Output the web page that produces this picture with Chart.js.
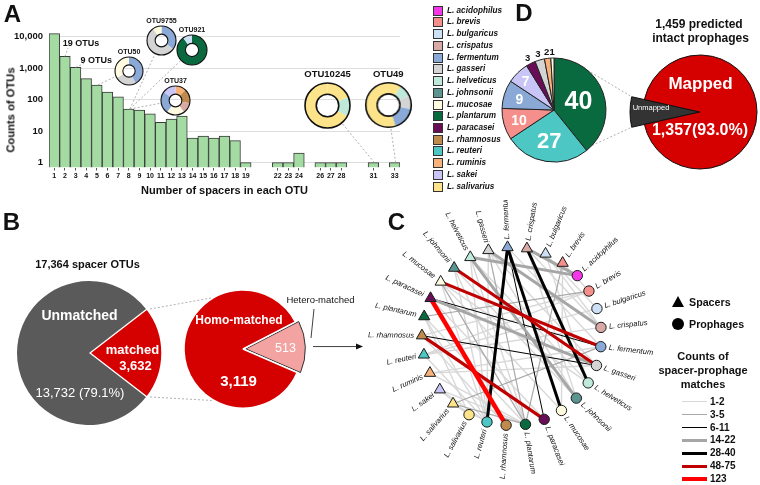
<!DOCTYPE html>
<html lang="en">
<head>
<meta charset="UTF-8">
<title>Spacer OTUs and prophages</title>
<script src="https://cdn.jsdelivr.net/npm/chart.js"></script>
<style>
  body { margin: 0; background: #fff; }
  #fig { position: relative; width: 760px; height: 485px; overflow: hidden; font-family: 'Liberation Sans', Arial, sans-serif; }
  #fig canvas { position: absolute; }
  .t { position: absolute; white-space: nowrap; line-height: 1; color: #111; }
  .sw { position: absolute; width: 8px; height: 8px; border: 1px solid #333; }
</style>
</head>
<body>
<div id="fig"></div>
<script>
  // ---- panel A: spacers per OTU ----
  const spacerNumbers = ['1','2','3','4','5','6','7','8','9','10','11','12','13','14','15','16','17','18','19','20','21','22','23','24','25','26','27','28','29','30','31','32','33'];
  const otuCounts = [12300, 2330, 1050, 460, 290, 174, 121, 50, 46, 35, 19, 24, 30, 6, 7, 6, 7, 5, 1, null, null, 1, 1, 2, null, 1, 1, 1, null, null, 1, null, 1];
  const yTickValues = [1, 10, 100, 1000, 10000];
  const yTickLabels = ['1', '10', '100', '1,000', '10,000'];
  const noteLabels = ['19 OTUs', '9 OTUs'];
  const noteBars = ['2', '3'];

  // example OTUs and the hosts of their spacers (clockwise from top)
  const otuNames = ['OTU50', 'OTU9755', 'OTU921', 'OTU37', 'OTU10245', 'OTU49'];
  const otuSpacers = ['5', '8', '8', '8', '31', '33'];
  const otuSpecies = [
    ['fermentum', 'gasseri', 'mucosae'],
    ['fermentum', 'gasseri', 'mucosae'],
    ['plantarum', 'bulgaricus'],
    ['ruminis', 'rhamnosus', 'crispatus', 'mucosae', 'fermentum', 'sakei'],
    ['salivarius', 'helveticus', 'salivarius'],
    ['salivarius', 'helveticus', 'gasseri', 'fermentum', 'salivarius']
  ];
  const otuShares = [
    [42, 25, 33],
    [35, 55, 10],
    [90, 10],
    [12, 16, 12, 20, 25, 15],
    [19, 14, 67],
    [9, 9, 10, 17, 55]
  ];

  // ---- panel B ----
  const spacerGroups = ['matched', 'Unmatched'];
  const spacerGroupCounts = [3632, 13732];
  const matchedGroups = ['Hetero-matched', 'Homo-matched'];
  const matchedGroupCounts = [513, 3119];

  // ---- panel D ----
  const prophageSpecies = ['plantarum', 'reuteri', 'brevis', 'fermentum', 'sakei', 'paracasei', 'gasseri', 'ruminis', 'mucosae'];
  const prophageCounts = [40, 27, 10, 9, 7, 3, 3, 2, 1];
  const mappingGroups = ['Unmapped', 'Mapped'];
  const mappingCounts = [102, 1357];

  // ---- panel C: spacer -> prophage network ----
  const spacerNodes = ['brevis', 'bulgaricus', 'crispatus', 'fermentum', 'gasseri', 'helveticus', 'johnsonii', 'mucosae', 'paracasei', 'plantarum', 'rhamnosus', 'reuteri', 'ruminis', 'sakei', 'salivarius'];
  const prophageNodes = ['salivarius', 'reuteri', 'rhamnosus', 'plantarum', 'paracasei', 'mucosae', 'johnsonii', 'helveticus', 'gasseri', 'fermentum', 'crispatus', 'bulgaricus', 'brevis', 'acidophilus'];
  const edgeSpacer = ['paracasei','johnsonii','mucosae','rhamnosus','fermentum','fermentum','crispatus','paracasei','rhamnosus','fermentum',
    'crispatus','helveticus','gasseri','paracasei','helveticus','salivarius','plantarum','brevis','gasseri','mucosae','salivarius',
    'reuteri','reuteri','ruminis','sakei','sakei','salivarius','salivarius','plantarum','plantarum','mucosae','johnsonii','johnsonii',
    'helveticus','helveticus','gasseri','gasseri','gasseri','fermentum','crispatus','crispatus','bulgaricus','bulgaricus','brevis','brevis',
    'rhamnosus','rhamnosus','reuteri','paracasei','mucosae','plantarum','ruminis','bulgaricus','johnsonii','sakei','ruminis','reuteri','mucosae','helveticus'];
  const edgeProphage = ['rhamnosus','gasseri','fermentum','paracasei','reuteri','mucosae','helveticus','fermentum','gasseri','paracasei',
    'acidophilus','acidophilus','crispatus','gasseri','johnsonii','fermentum','brevis','plantarum','plantarum','plantarum','plantarum',
    'brevis','bulgaricus','fermentum','reuteri','plantarum','salivarius','reuteri','reuteri','salivarius','reuteri','plantarum','reuteri',
    'helveticus','plantarum','reuteri','johnsonii','gasseri','fermentum','crispatus','johnsonii','bulgaricus','crispatus','brevis','mucosae',
    'rhamnosus','brevis','reuteri','paracasei','mucosae','plantarum','plantarum','helveticus','johnsonii','salivarius','gasseri','crispatus','helveticus','reuteri'];
  const edgeCount = [123, 62, 55, 50, 36, 32, 30, 9, 8, 7,
    18, 15, 16, 20, 14, 4, 4, 3, 3, 3, 3,
    1, 1, 1, 2, 1, 2, 1, 1, 1, 1, 1, 2,
    2, 1, 1, 2, 2, 2, 2, 1, 2, 1, 2, 1,
    1, 1, 2, 1, 1, 2, 1, 1, 1, 1, 1, 2, 1, 1];
  const countBins = ['1-2', '3-5', '6-11', '14-22', '28-40', '48-75', '123'];
  const countBinMax = [2, 5, 11, 22, 40, 75, 123];

  // ---- styles ----
  const FONT = "'Liberation Sans', Arial, sans-serif";
  const speciesNames = ['acidophilus', 'brevis', 'bulgaricus', 'crispatus', 'fermentum', 'gasseri', 'helveticus', 'johnsonii', 'mucosae', 'plantarum', 'paracasei', 'rhamnosus', 'reuteri', 'ruminis', 'sakei', 'salivarius'];
  const speciesColors = ['#f536e8', '#f58f8b', '#cde0f6', '#d9a9a6', '#8aa9d6', '#d4d4d4', '#bfead9', '#5c9590', '#fffbe0', '#0a6a3f', '#6a0d57', '#bf8a4b', '#4cc7c4', '#f7b27a', '#c9c5f6', '#fde38a'];
  const colorOf = s => speciesColors[speciesNames.indexOf(s)];
  const binColors = ['#d8d8d8', '#a9a9a9', '#000000', '#a6a6a6', '#000000', '#c00000', '#ff0000'];
  const binWidths = [1.4, 1.2, 1, 3, 3, 3.2, 4.5];

  Chart.defaults.font.family = FONT;
  Chart.defaults.color = '#111';
  Chart.defaults.animation = false;
  Chart.defaults.responsive = false;
  Chart.defaults.plugins.legend.display = false;
  Chart.defaults.plugins.tooltip.enabled = false;

  const fig = document.getElementById('fig');
  function addCanvas(left, top, w, h) {
    const c = document.createElement('canvas');
    c.width = w; c.height = h;
    c.style.left = left + 'px'; c.style.top = top + 'px';
    c.style.width = w + 'px'; c.style.height = h + 'px';
    fig.appendChild(c);
    return c;
  }
  function addText(txt, x, y, size, o = {}) {
    const d = document.createElement('div');
    d.className = 't';
    d.textContent = txt;
    d.style.left = x + 'px';
    d.style.top = y + 'px';
    d.style.fontSize = size + 'px';
    d.style.fontWeight = o.weight || 'bold';
    if (o.color) d.style.color = o.color;
    if (o.italic) d.style.fontStyle = 'italic';
    d.style.transform = (o.align === 'left' ? 'translate(0,-50%)' : 'translate(-50%,-50%)') + (o.rotate ? ` rotate(${o.rotate}deg)` : '');
    fig.appendChild(d);
    return d;
  }

  const under = addCanvas(0, 0, 760, 485);

  // ---- A: bar chart ----
  const otuPos = [[129, 70.5, 14], [161.5, 40.5, 14.5], [192, 50, 15], [175.5, 100.5, 14.5], [327.5, 105, 22.5], [388.3, 105, 22.3]];
  const notePos = [[68, 48], [84, 63.5]];

  const connectors = {
    id: 'connectors',
    afterDatasetsDraw(chart) {
      const ctx = chart.ctx, xs = chart.scales.x, ys = chart.scales.y;
      const top = lbl => {
        const i = spacerNumbers.indexOf(lbl);
        return [xs.getPixelForValue(i), ys.getPixelForValue(otuCounts[i])];
      };
      ctx.save();
      ctx.setLineDash([2, 2]);
      ctx.strokeStyle = '#9c9c9c';
      ctx.lineWidth = 0.8;
      otuNames.forEach((n, i) => {
        const [bx, by] = top(otuSpacers[i]);
        const [cx, cy, r] = otuPos[i];
        const d = Math.hypot(cx - bx, cy - by);
        ctx.beginPath();
        ctx.moveTo(bx + 1, by);
        ctx.lineTo(cx - (cx - bx) / d * r, cy - (cy - by) / d * r);
        ctx.stroke();
      });
      noteBars.forEach((b, i) => {
        const [bx, by] = top(b);
        ctx.beginPath();
        ctx.moveTo(bx, by);
        ctx.lineTo(notePos[i][0], notePos[i][1]);
        ctx.stroke();
      });
      ctx.restore();
    }
  };

  new Chart(addCanvas(0, 0, 420, 200), {
    type: 'bar',
    data: {
      labels: spacerNumbers,
      datasets: [{
        data: otuCounts,
        backgroundColor: '#a3dba3',
        borderColor: '#3a3a3a',
        borderWidth: 1,
        barPercentage: 1,
        categoryPercentage: 1
      }]
    },
    options: {
      layout: { padding: { top: 27, right: 20, left: 0, bottom: 0 } },
      scales: {
        x: {
          grid: {
            drawOnChartArea: false,
            offset: false,
            tickLength: 3,
            tickColor: c => otuCounts[c.index] == null ? 'rgba(0,0,0,0)' : '#555'
          },
          border: { display: false },
          ticks: {
            autoSkip: false, maxRotation: 0, padding: 1,
            font: { size: 7, weight: 'bold' },
            callback: (v, i) => otuCounts[i] == null ? '' : spacerNumbers[i]
          },
          title: { display: true, text: 'Number of spacers in each OTU', font: { size: 11, weight: 'bold' }, padding: { top: 0, bottom: 2 } },
          afterFit: s => { s.height = 32.5; }
        },
        y: {
          type: 'logarithmic',
          min: 0.74,
          max: 20000,
          afterBuildTicks: s => { s.ticks = yTickValues.map(v => ({ value: v })); },
          ticks: {
            padding: 6,
            font: { size: 9.5, weight: 'bold' },
            callback: v => yTickLabels[yTickValues.indexOf(v)]
          },
          grid: { color: '#dedede', drawTicks: false },
          border: { display: false },
          afterFit: s => { s.width = 49; }
        }
      }
    },
    plugins: [connectors]
  });

  // ring charts for example OTUs
  const ringOutline = {
    id: 'ringOutline',
    afterDatasetsDraw(chart) {
      const a = chart.getDatasetMeta(0).data[0], ctx = chart.ctx;
      ctx.save();
      ctx.strokeStyle = '#111';
      ctx.lineWidth = a.outerRadius > 20 ? 1.6 : 1.1;
      [a.outerRadius, a.innerRadius].forEach(rr => {
        ctx.beginPath(); ctx.arc(a.x, a.y, rr, 0, 2 * Math.PI); ctx.stroke();
      });
      ctx.restore();
    }
  };
  otuNames.forEach((name, i) => {
    const [cx, cy, r] = otuPos[i];
    new Chart(addCanvas(cx - r - 3, cy - r - 3, 2 * r + 6, 2 * r + 6), {
      type: 'doughnut',
      data: {
        labels: otuSpecies[i],
        datasets: [{ data: otuShares[i], backgroundColor: otuSpecies[i].map(colorOf), borderWidth: 0 }]
      },
      options: { radius: r, cutout: r > 20 ? '50%' : '44%' },
      plugins: [ringOutline]
    });
    addText(name, cx, cy - r - (r > 20 ? 8.5 : 6), r > 20 ? 9.5 : 7);
  });
  noteLabels.forEach((t, i) => addText(t, [81, 96.3][i], [43, 60][i], 9));

  // ---- pies (B, D) ----
  function pieChart(cx, cy, r, margin, labels, values, colors, o) {
    const size = 2 * (r + margin);
    return new Chart(addCanvas(cx - r - margin, cy - r - margin, size, size), {
      type: 'pie',
      data: { labels, datasets: [{ data: values, backgroundColor: colors, borderColor: o.borderColor, borderWidth: o.borderWidth, offset: o.offset || 0 }] },
      options: { radius: r, rotation: o.rotation || 0 },
      plugins: o.plugins || []
    });
  }
  const sum = a => a.reduce((s, v) => s + v, 0);

  const gPie = pieChart(89, 353, 72, 12, spacerGroups, spacerGroupCounts, ['#d50000', '#5a5a5a'], {
    borderColor: ['#ffffff', '#ffffff'], borderWidth: [1.5, 0], offset: [4, 0],
    rotation: 90 - spacerGroupCounts[0] / sum(spacerGroupCounts) * 180
  });
  const rPie = pieChart(243, 349, 59, 16, matchedGroups, matchedGroupCounts, ['#f4a3a3', '#d50000'], {
    borderColor: ['#333333', '#ffffff'], borderWidth: [1, 1.5], offset: [11, 0],
    rotation: 88 - matchedGroupCounts[0] / sum(matchedGroupCounts) * 180
  });

  const dLabels = {
    id: 'dLabels',
    afterDatasetsDraw(chart) {
      const ctx = chart.ctx;
      chart.getDatasetMeta(0).data.forEach((arc, i) => {
        const v = prophageCounts[i];
        const mid = (arc.startAngle + arc.endAngle) / 2;
        const inside = v >= 5;
        const rr = inside ? arc.outerRadius * (v >= 30 ? 0.5 : v >= 20 ? 0.6 : v >= 9 ? 0.7 : 0.78) : arc.outerRadius + 7;
        ctx.save();
        ctx.font = `bold ${inside ? (v >= 30 ? 25 : v >= 20 ? 22 : 14) : 9.5}px ${FONT}`;
        ctx.fillStyle = inside ? '#fff' : '#111';
        ctx.textAlign = 'center';
        ctx.textBaseline = 'middle';
        ctx.fillText(String(v), arc.x + Math.cos(mid) * rr, arc.y + Math.sin(mid) * rr + 1);
        ctx.restore();
      });
    }
  };
  const dPie = pieChart(554, 110, 52, 16, prophageSpecies, prophageCounts, prophageSpecies.map(colorOf), {
    borderColor: '#222', borderWidth: 1, plugins: [dLabels]
  });

  const growFirst = {
    id: 'growFirst',
    afterDatasetsUpdate(chart) {
      const d = chart.getDatasetMeta(0).data;
      d[0].outerRadius = d[1].outerRadius + 13;
    }
  };
  const mPie = pieChart(700, 112, 57, 18, mappingGroups, mappingCounts, ['#333333', '#d50000'], {
    borderColor: '#111', borderWidth: 1,
    rotation: 270 - mappingCounts[0] / sum(mappingCounts) * 180,
    plugins: [growFirst]
  });

  // ---- C: network ----
  const NODE_START = 55.4 * Math.PI / 180;
  const NODE_STEP = 2 * Math.PI / (spacerNodes.length + prophageNodes.length);
  const nodes = [
    ...spacerNodes.map(s => ({ kind: 'spacer', sp: s })),
    ...prophageNodes.map(s => ({ kind: 'prophage', sp: s }))
  ];
  nodes.forEach((n, k) => {
    n.theta = NODE_START + k * NODE_STEP;
    n.x = Math.cos(n.theta);
    n.y = Math.sin(n.theta);
  });
  const nodeOf = (kind, sp) => nodes.find(n => n.kind === kind && n.sp === sp);
  const binOf = c => countBinMax.findIndex(m => c <= m);

  const edgeSets = edgeCount.map((c, i) => {
    const a = nodeOf('spacer', edgeSpacer[i]), b = nodeOf('prophage', edgeProphage[i]);
    const k = binOf(c);
    return {
      data: [{ x: a.x, y: a.y }, { x: b.x, y: b.y }],
      showLine: true, pointRadius: 0,
      borderColor: binColors[k], borderWidth: binWidths[k],
      order: 100 - k
    };
  });
  const nodeSet = {
    data: nodes.map(n => ({ x: n.x, y: n.y })),
    pointStyle: nodes.map(n => n.kind === 'spacer' ? 'triangle' : 'circle'),
    pointRadius: nodes.map(n => n.kind === 'spacer' ? 6.5 : 5.2),
    backgroundColor: nodes.map(n => colorOf(n.sp)),
    borderColor: '#1a1a1a',
    borderWidth: 1,
    order: 0
  };
  const nodeLabels = {
    id: 'nodeLabels',
    afterDatasetsDraw(chart) {
      const ctx = chart.ctx, xs = chart.scales.x, ys = chart.scales.y;
      nodes.forEach(n => {
        ctx.save();
        ctx.translate(xs.getPixelForValue(n.x), ys.getPixelForValue(n.y));
        ctx.font = `italic 7.6px ${FONT}`;
        ctx.fillStyle = '#111';
        ctx.textBaseline = 'middle';
        if (Math.cos(n.theta) > -0.06) {
          ctx.rotate(-n.theta); ctx.textAlign = 'left'; ctx.fillText('L. ' + n.sp, 8, 0);
        } else {
          ctx.rotate(Math.PI - n.theta); ctx.textAlign = 'right'; ctx.fillText('L. ' + n.sp, -8, 0);
        }
        ctx.restore();
      });
    }
  };
  // canvas 340..670 x 200..485, circle centre (512,336), 94 px per unit
  new Chart(addCanvas(340, 200, 330, 285), {
    type: 'scatter',
    data: { datasets: [nodeSet, ...edgeSets] },
    options: {
      layout: { padding: 0 },
      scales: {
        x: { display: false, min: (340 - 512) / 94, max: (670 - 512) / 94 },
        y: { display: false, min: (336 - 485) / 94, max: (336 - 200) / 94 }
      }
    },
    plugins: [nodeLabels]
  });

  // ---- connectors between pies, arrow ----
  function pagePt(chart, arc, angle, radius, offset) {
    const mid = (arc.startAngle + arc.endAngle) / 2;
    return [chart.canvas.offsetLeft + arc.x + Math.cos(mid) * offset + Math.cos(angle) * radius,
            chart.canvas.offsetTop + arc.y + Math.sin(mid) * offset + Math.sin(angle) * radius];
  }
  const u = under.getContext('2d');
  function seg(p, q) { u.beginPath(); u.moveTo(p[0], p[1]); u.lineTo(q[0], q[1]); u.stroke(); }
  u.setLineDash([2, 2]);
  u.strokeStyle = '#9c9c9c';
  u.lineWidth = 0.8;
  const gm = gPie.getDatasetMeta(0).data[0];
  const rh = rPie.getDatasetMeta(0).data[1];
  seg(pagePt(gPie, gm, gm.startAngle, gm.outerRadius, 4), pagePt(rPie, rh, Math.PI + 1.065, rh.outerRadius, 0));
  seg(pagePt(gPie, gm, gm.endAngle, gm.outerRadius, 4), pagePt(rPie, rh, Math.PI - 1.065, rh.outerRadius, 0));
  const dm = dPie.getDatasetMeta(0).data[0];
  const um = mPie.getDatasetMeta(0).data[0];
  seg(pagePt(dPie, dm, -50 * Math.PI / 180, dm.outerRadius, 0), pagePt(mPie, um, um.endAngle, um.outerRadius, 0));
  seg(pagePt(dPie, dm, 43 * Math.PI / 180, dm.outerRadius, 0), pagePt(mPie, um, um.startAngle, um.outerRadius, 0));

  u.setLineDash([]);
  u.strokeStyle = '#111';
  u.lineWidth = 0.8;
  const hm = rPie.getDatasetMeta(0).data[0];
  const hMid = (hm.startAngle + hm.endAngle) / 2;
  const a0 = pagePt(rPie, hm, hMid, hm.outerRadius, 11);
  seg(a0, [361, a0[1]]);
  u.fillStyle = '#111';
  u.beginPath(); u.moveTo(363, a0[1]); u.lineTo(356, a0[1] - 3); u.lineTo(356, a0[1] + 3); u.closePath(); u.fill();
  seg([314, 309], [311, 338]);

  // ---- texts ----
  addText('A', 12.5, 13.5, 24);
  addText('B', 11.5, 221.5, 24);
  addText('C', 396.5, 221.5, 24);
  addText('D', 524, 13.3, 24);
  addText('Counts of OTUs', 10.5, 109.5, 11.2, { rotate: -90 });

  speciesNames.forEach((s, i) => {
    const y = 10.7 + i * 11.73;
    const sw = document.createElement('div');
    sw.className = 'sw';
    sw.style.left = '433px';
    sw.style.top = (y - 5) + 'px';
    sw.style.background = speciesColors[i];
    fig.appendChild(sw);
    addText('L. ' + s, 447, y, 8.2, { italic: true, align: 'left' });
  });

  addText('17,364 spacer OTUs', 87.5, 264, 11);
  addText('Unmatched', 79.5, 315, 14, { color: '#fff' });
  addText('matched', 132.5, 349, 13, { color: '#fff' });
  addText('3,632', 135.5, 365, 13, { color: '#fff' });
  addText('13,732 (79.1%)', 80, 391.7, 13, { color: '#fff', weight: 'normal' });
  addText('Homo-matched', 239, 320, 12, { color: '#fff' });
  addText('3,119', 238.5, 380, 15, { color: '#fff' });
  addText('513', 285.5, 348, 12.5, { color: '#fff', weight: 'normal' });
  addText('Hetero-matched', 320.5, 300, 9.5, { weight: 'normal' });

  addText('1,459 predicted', 699, 24, 12);
  addText('intact prophages', 700.5, 38.3, 12);
  addText('Mapped', 700.5, 83.3, 17, { color: '#fff' });
  addText('1,357(93.0%)', 700, 130, 16, { color: '#fff' });
  addText('Unmapped', 651, 108.3, 7.5, { color: '#fff', weight: 'normal' });

  // C legend
  const tri = document.createElement('div');
  tri.style.cssText = 'position:absolute;left:672px;top:296px;width:0;height:0;border-left:6px solid transparent;border-right:6px solid transparent;border-bottom:11px solid #000;';
  fig.appendChild(tri);
  const dot = document.createElement('div');
  dot.style.cssText = 'position:absolute;left:671.5px;top:318px;width:12px;height:12px;border-radius:50%;background:#000;';
  fig.appendChild(dot);
  addText('Spacers', 689, 301.7, 10.7, { align: 'left' });
  addText('Prophages', 689, 324.3, 10.7, { align: 'left' });
  addText('Counts of', 703, 355.7, 11);
  addText('spacer-prophage', 703, 370, 11);
  addText('matches', 703, 384, 11);
  countBins.forEach((b, k) => {
    const y = 401.7 + k * 12.9;
    const ln = document.createElement('div');
    ln.style.cssText = `position:absolute;left:682px;width:25px;top:${y - binWidths[k] / 2}px;height:${binWidths[k]}px;background:${binColors[k]};`;
    fig.appendChild(ln);
    addText(b, 710, y, 10, { align: 'left' });
  });
</script>
</body>
</html>
